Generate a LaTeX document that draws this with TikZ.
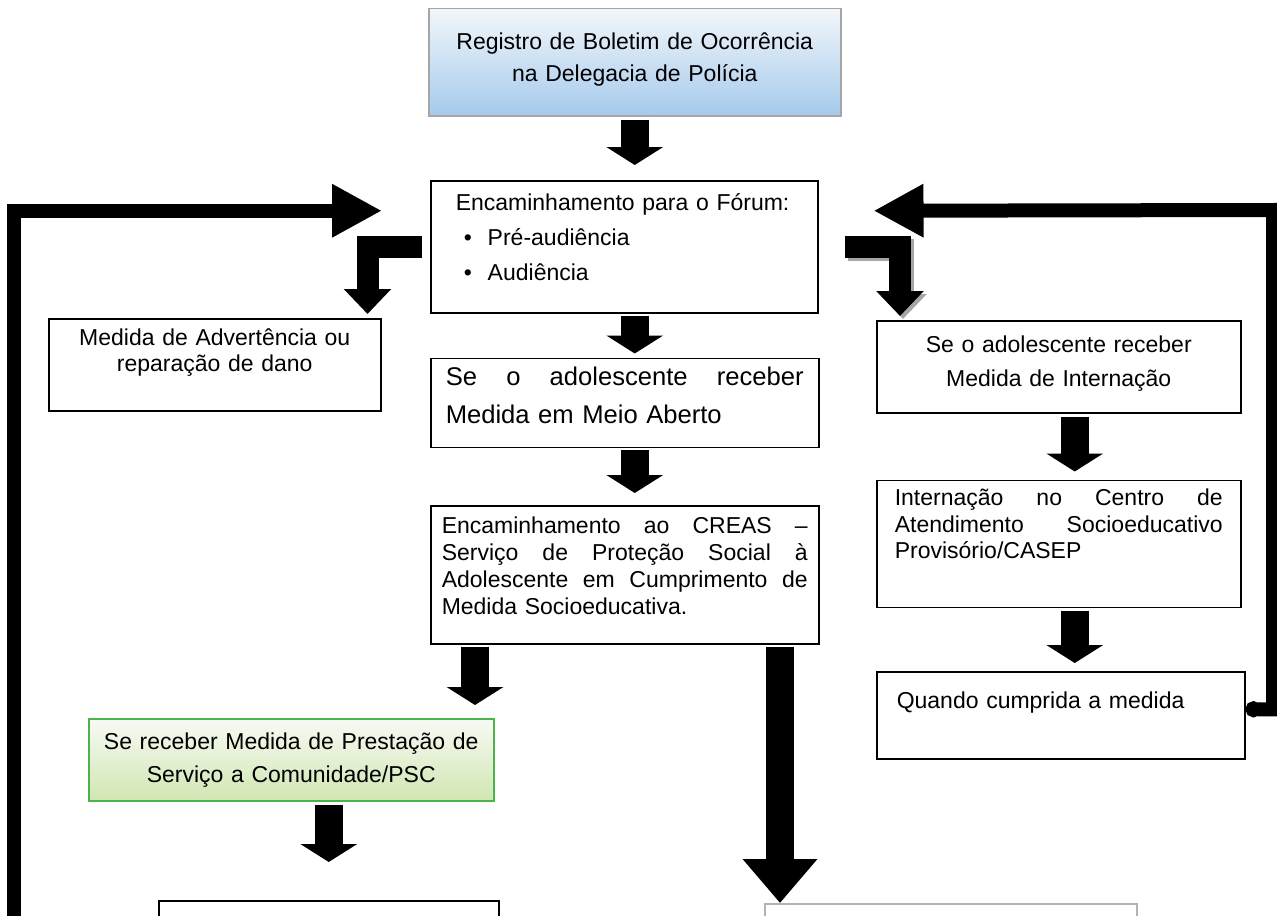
\documentclass[tikz,border=0pt]{standalone}
\usepackage{fontspec}
\setmainfont{Liberation Sans}
\usetikzlibrary{arrows.meta,positioning}
\definecolor{regtop}{RGB}{242,246,250}
\definecolor{regbot}{RGB}{165,202,236}
\definecolor{psctop}{RGB}{248,250,244}
\definecolor{pscbot}{RGB}{208,230,178}
\begin{document}
\begin{tikzpicture}[x=0.5pt, y=-0.5pt,
	box/.style={draw, line width=0.75pt, inner ysep=0pt},
	txt/.style={font=\fontsize{11.5}{#1}\selectfont},
	blk/.style={line width=14pt, -{Triangle[width=28pt,length=9pt]}},
	bigblk/.style={line width=14pt, -{Triangle[width=36pt,length=22pt]}},
	loopline/.style={line width=7pt, -{Triangle[width=25pt,length=25pt]}},
	elbow/.style={line width=11pt, -{Triangle[width=23pt,length=12.5pt]}}]
	\useasboundingbox (0,0) rectangle (1277,915);
	\fill[white] (0,0) rectangle (1277,915);
	\clip (0,0) rectangle (1277,915);
	% central column
	\node[box, anchor=north west, draw=gray!70, top color=regtop, bottom color=regbot, text width=192pt, inner xsep=7pt, minimum height=53.5pt, align=center, txt=16pt] (reg) at (428,8) {Registro de Boletim de Ocorrência\\ na Delegacia de Polícia\rule[-5pt]{0pt}{0pt}};
	\node[box, anchor=north west, text width=168.5pt, inner xsep=12.5pt, minimum height=66pt, align=left, txt=17.5pt] (forum) at (430,180) {Encaminhamento para o Fórum:\\
		\hspace*{4pt}\makebox[12pt][l]{\textbullet}Pré-audiência\\
		\hspace*{4pt}\makebox[12pt][l]{\textbullet}Audiência\rule[-10pt]{0pt}{0pt}};
	\node[box, below=22pt of forum.south west, anchor=north west, text width=179pt, inner xsep=7.5pt, minimum height=44.5pt, align=left, font=\fontsize{12.8}{19}\selectfont] (meio) {Se \hfill o \hfill adolescente \hfill receber\\ Medida em Meio Aberto\rule[-8pt]{0pt}{0pt}};
	\node[box, below=28.5pt of meio.south west, anchor=north west, text width=183pt, inner xsep=5.5pt, minimum height=69pt, align=left, txt=13.5pt] (creas) {Encaminhamento \hfill ao \hfill CREAS \hfill –\\ Serviço \hfill de \hfill Proteção \hfill Social \hfill à\\ Adolescente \hfill em \hfill Cumprimento \hfill de\\ Medida Socioeducativa.\rule[-9pt]{0pt}{0pt}};
	% left side
	\node[box, anchor=north west, text width=152pt, inner xsep=7pt, minimum height=46pt, align=center, txt=13pt] (adv) at (48,318) {Medida de Advertência ou\\ reparação de dano\rule[-15pt]{0pt}{0pt}};
	\node[box, anchor=north west, draw=gray!60!green, top color=psctop, bottom color=pscbot, text width=188.5pt, inner xsep=7pt, minimum height=41pt, align=center, txt=16.5pt] (psc) at (88,718) {Se receber Medida de Prestação de\\ Serviço a Comunidade/PSC};
	\node[box, anchor=north west, minimum width=170pt, minimum height=40pt] (fimL) at (158,900) {};
	\node[box, anchor=north west, draw=gray!60, minimum width=186pt, minimum height=40pt] (fimR) at (764,903) {};
	% right column
	\node[box, anchor=north west, text width=168pt, inner xsep=7pt, minimum height=46pt, align=center, txt=17pt] (intern) at (876,320) {Se o adolescente receber\\ Medida de Internação\rule[-6pt]{0pt}{0pt}};
	\node[box, below=33pt of intern.south west, anchor=north west, text width=164pt, inner xsep=9pt, minimum height=63.5pt, align=left, txt=13.25pt] (casep) {Internação \hfill no \hfill Centro \hfill de\\ Atendimento \hfill Socioeducativo\\ Provisório/CASEP\rule[-20pt]{0pt}{0pt}};
	\node[box, below=31.5pt of casep.south west, anchor=north west, text width=164pt, inner xsep=10pt, minimum height=43.5pt, align=left, txt=14pt] (quando) {Quando cumprida a medida\rule[-15pt]{0pt}{0pt}};
	\coordinate (loopL) at (14,940);
	\coordinate (cornR) at (1273,210);
	% arrows
	\draw[blk, shorten <=1.5pt, shorten >=7.5pt] (reg.south) -- (reg.south |- forum.north);
	\draw[blk, shorten <=1pt, shorten >=2pt] (forum.south -| reg.south) -- (meio.north -| reg.south);
	\draw[blk, shorten <=1pt, shorten >=6pt] (meio.south -| reg.south) -- (creas.north -| reg.south);
	\draw[blk, shorten <=1pt, shorten >=6.5pt] ([xshift=22.5pt]creas.south west) -- ([xshift=22.5pt]creas.south west |- psc.north);
	\draw[blk, shorten <=1.5pt, shorten >=19pt] (fimL.north |- psc.south) -- (fimL.north);
	\draw[bigblk, shorten <=1pt] ([xshift=175pt]creas.south west) -- ([xshift=175pt]creas.south west |- fimR.north);
	\draw[blk, shorten <=1.5pt, shorten >=4pt] ([xshift=8pt]intern.south) -- ([xshift=8pt]intern.south |- casep.north);
	\draw[blk, shorten <=1.5pt, shorten >=4pt] ([xshift=8pt]casep.south) -- ([xshift=8pt]casep.south |- quando.north);
	\draw[elbow, shorten <=4pt, shorten >=2pt] (forum.west) -| ([xshift=-7pt]adv.north east);
	\draw[elbow, gray!70, shorten <=13pt, shorten >=2pt, transform canvas={xshift=1.5pt, yshift=-1.5pt}] (forum.east) -| ([xshift=12pt]intern.north west);
	\draw[elbow, shorten <=13pt, shorten >=2pt] (forum.east) -| ([xshift=12pt]intern.north west);
	\draw[loopline] (loopL) |- ([xshift=-24pt, yshift=18pt]forum.west);
	\draw[loopline, {Circle[length=8pt]}-{Triangle[width=25pt,length=25pt]}] ([yshift=3pt]quando.east) -| (cornR) -- ([xshift=27.5pt, yshift=18pt]forum.east);
\end{tikzpicture}
\end{document}
